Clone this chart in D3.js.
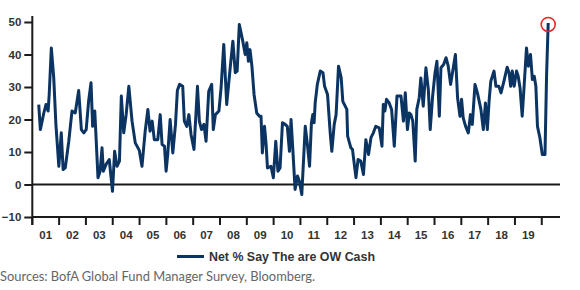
<!DOCTYPE html>
<html>
<head>
<meta charset="utf-8">
<script src="https://cdn.jsdelivr.net/npm/d3@7"></script>
<style>
  body { margin: 0; background: #fff; }
  svg { display: block; }
</style>
</head>
<body>
<script>

// survey dates (decimal years) and net % of managers overweight cash
var dates = [2001.24,2001.30,2001.43,2001.51,2001.59,2001.63,2001.71,2001.80,2001.88,2001.99,
  2002.08,2002.15,2002.23,2002.36,2002.48,2002.60,2002.73,2002.83,2002.92,
  2003.01,2003.10,2003.19,2003.25,2003.33,2003.45,2003.53,2003.60,2003.65,2003.75,2003.87,2003.99,
  2004.07,2004.16,2004.25,2004.32,2004.41,2004.50,2004.60,2004.72,2004.84,2004.99,
  2005.09,2005.21,2005.31,2005.39,2005.47,2005.55,2005.68,2005.77,2005.84,2005.93,2005.99,
  2006.05,2006.14,2006.24,2006.34,2006.41,2006.49,2006.61,2006.67,2006.76,2006.84,2006.92,
  2007.03,2007.16,2007.23,2007.31,2007.40,2007.48,2007.58,2007.69,2007.75,2007.83,2007.96,
  2008.04,2008.14,2008.25,2008.38,2008.48,2008.57,2008.64,2008.72,2008.85,2008.94,
  2009.00,2009.06,2009.12,2009.19,2009.27,2009.37,2009.47,2009.53,2009.58,2009.66,2009.72,2009.77,2009.90,2009.99,
  2010.08,2010.16,2010.24,2010.33,2010.43,2010.51,2010.59,2010.65,2010.72,2010.80,2010.89,2010.96,
  2011.05,2011.18,2011.26,2011.34,2011.41,2011.46,2011.51,2011.55,2011.63,2011.74,2011.84,2011.90,
  2012.01,2012.11,2012.17,2012.26,2012.33,2012.42,2012.52,2012.58,2012.73,2012.76,2012.88,2012.94,
  2013.07,2013.15,2013.25,2013.35,2013.44,2013.54,2013.63,2013.72,2013.81,2013.94,
  2014.04,2014.09,2014.15,2014.21,2014.31,2014.40,2014.50,2014.60,2014.75,2014.84,2014.91,2014.99,
  2015.06,2015.12,2015.19,2015.28,2015.34,2015.43,2015.49,2015.58,2015.68,2015.77,2015.84,2015.93,
  2016.02,2016.09,2016.18,2016.24,2016.34,2016.43,2016.51,2016.60,2016.70,2016.78,2016.86,2016.95,
  2017.01,2017.07,2017.16,2017.26,2017.34,2017.41,2017.51,2017.60,2017.73,2017.82,2017.90,2017.97,
  2018.04,2018.10,2018.22,2018.29,2018.40,2018.48,2018.59,2018.71,2018.78,2018.84,2018.90,2018.97,
  2019.06,2019.12,2019.19,2019.27,2019.35,2019.43,2019.50,2019.58,2019.65,2019.72,2019.78,2019.84,2019.93,
  2020.02,2020.12,2020.18,2020.24];

var cash = [24.6,16.9,22,24.6,22.6,27.7,42,32.8,18.5,5.6,
  15.9,4.6,5.1,13.3,22.6,22,28.9,16.9,15.9,
  16.9,25.6,31.3,17.9,22.6,2.1,4.1,11.3,4.1,6.2,7.7,-2.1,
  10.2,5.6,7.2,27.2,15.9,21.5,30.2,19.5,12.8,10.5,
  5.6,16.4,23.1,16.4,19.5,13.8,13.8,21.5,12.3,11.8,4.1,
  9.2,20,9.7,18.5,28.9,30.8,30.2,19.5,17.9,21.5,15.4,
  10.8,30.2,19.5,16.9,18.5,13.3,28.7,30.8,16.9,21.5,22.6,
  29.7,43.1,24.6,35.9,44.1,34.4,34.9,49.2,44.1,40,
  43.6,37.9,41.5,36.4,27.7,22,21,21,9.7,17.9,12.3,5.1,5.6,2.1,
  13.3,4.1,5.1,19,18.5,17.9,10.2,20,10.2,-1.5,2.6,1,
  -3.1,17.9,12.3,5.6,19,21.5,19,25.1,30.8,34.9,34.4,30.2,
  27.7,15.9,10.2,18.5,21.5,36.4,32.8,25.6,23.1,14.9,11.3,10.8,
  2.1,7.7,7.2,3.1,13.8,9.2,14.4,15.9,17.9,17.4,
  11.8,24.6,22.6,26.2,25.1,23.1,11.8,27.2,27.2,19.5,28.2,16.9,
  22,21.5,19.5,7.2,23.1,26.7,32.8,24.1,35.9,29.2,16.9,27.2,
  34.4,37.9,21,35.9,36.9,39,36.5,30.8,35.9,40,26.7,21,
  26.2,20.5,17.9,15.9,21.5,18.5,30.8,28.2,23.1,16.9,25.1,16.9,
  26.2,31.8,34.9,30.2,30.2,28.2,31.8,36.1,34.4,30.2,34.9,30.2,
  34.9,33.3,29.7,21,31.3,42,36.4,40,32.3,33.3,30.2,17.9,14.4,
  9.2,9.2,33.8,49.7];

var yTicks = [-10, 0, 10, 20, 30, 40, 50];
var years = [2001,2002,2003,2004,2005,2006,2007,2008,2009,2010,2011,2012,2013,2014,2015,2016,2017,2018,2019];
var yearLabels = ["01","02","03","04","05","06","07","08","09","10","11","12","13","14","15","16","17","18","19"];
var seriesName = "Net % Say The are OW Cash";
var source = "Sources: BofA Global Fund Manager Survey, Bloomberg.";

var W = 580, H = 290;
var lineColor = "#0b3463";
var labelFont = "'Liberation Sans', Arial, sans-serif";

var data = dates.map(function(d, i){ return {t: d, v: cash[i]}; });

var x = d3.scaleLinear().domain([2001, 2020.68]).range([32.3, 560]);
var y = d3.scaleLinear().domain([-10, 50]).range([217, 22]);

var svg = d3.select("body").append("svg")
  .attr("width", W)
  .attr("height", H);

// y axis
var yAxis = svg.append("g")
  .attr("transform", "translate(" + x(2001) + ",0)")
  .call(d3.axisLeft(y).tickValues(yTicks).tickSize(8).tickPadding(3).tickSizeOuter(0));
yAxis.select(".domain").remove();
yAxis.append("line")
  .attr("x1", 0).attr("x2", 0)
  .attr("y1", 16).attr("y2", 225)
  .attr("stroke", "#1a1a1a")
  .attr("stroke-width", 2);
yAxis.selectAll(".tick line").attr("stroke", "#1a1a1a").attr("stroke-width", 2);
yAxis.selectAll(".tick text")
  .attr("font-family", labelFont)
  .attr("font-weight", "bold")
  .attr("font-size", "11.5px")
  .attr("fill", "#333");

// x axis: ticks at year starts, labels in the middle of each year
var xAxis = svg.append("g")
  .attr("transform", "translate(0," + y(-10) + ")");
xAxis.append("line")
  .attr("x1", x(2001)).attr("x2", x.range()[1])
  .attr("y1", 0).attr("y2", 0)
  .attr("stroke", "#1a1a1a")
  .attr("stroke-width", 2);
xAxis.selectAll("line.tk")
  .data(years.concat([2020]))
  .enter()
  .append("line")
  .attr("class", "tk")
  .attr("x1", function(d){ return x(d); })
  .attr("x2", function(d){ return x(d); })
  .attr("y1", 0).attr("y2", 8)
  .attr("stroke", "#1a1a1a")
  .attr("stroke-width", 2);
xAxis.selectAll("text")
  .data(years)
  .enter()
  .append("text")
  .attr("x", function(d){ return x(d + 0.5); })
  .attr("y", 22)
  .attr("text-anchor", "middle")
  .attr("font-family", labelFont)
  .attr("font-weight", "bold")
  .attr("font-size", "11.5px")
  .attr("fill", "#333")
  .text(function(d, i){ return yearLabels[i]; });

// zero line
svg.append("line")
  .attr("x1", x(2001)).attr("x2", x.range()[1])
  .attr("y1", y(0)).attr("y2", y(0))
  .attr("stroke", "#1a1a1a")
  .attr("stroke-width", 1.8);

// series
var line = d3.line()
  .x(function(d){ return x(d.t); })
  .y(function(d){ return y(d.v); });

svg.append("path")
  .datum(data)
  .attr("d", line)
  .attr("fill", "none")
  .attr("stroke", lineColor)
  .attr("stroke-width", 3)
  .attr("stroke-linejoin", "round");

// red circle on the latest reading
var last = data[data.length - 1];
svg.append("circle")
  .attr("cx", x(last.t))
  .attr("cy", y(last.v) + 1.5)
  .attr("r", 7)
  .attr("fill", "none")
  .attr("stroke", "#e42a24")
  .attr("stroke-width", 1.6);

// legend
svg.append("line")
  .attr("x1", 177).attr("x2", 204)
  .attr("y1", 256.5).attr("y2", 256.5)
  .attr("stroke", lineColor)
  .attr("stroke-width", 3);
svg.append("text")
  .attr("x", 209)
  .attr("y", 261)
  .attr("font-family", labelFont)
  .attr("font-weight", "bold")
  .attr("font-size", "12.4px")
  .attr("fill", "#333")
  .text(seriesName);

// source note
svg.append("text")
  .attr("x", 0)
  .attr("y", 281)
  .attr("font-family", "Lato, 'Liberation Sans', sans-serif")
  .attr("font-size", "12.9px")
  .attr("fill", "#666")
  .text(source);

</script>
</body>
</html>
